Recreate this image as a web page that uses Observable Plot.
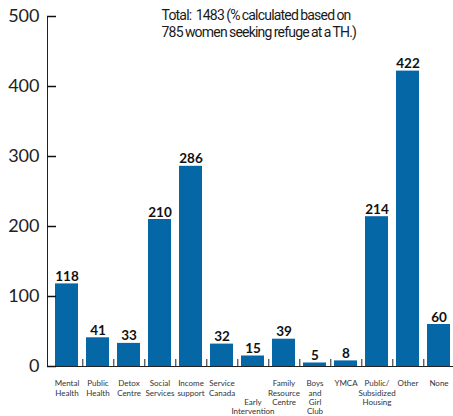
<!DOCTYPE html>
<html>
<head>
<meta charset="utf-8">
<script src="https://cdn.jsdelivr.net/npm/d3@7"></script>
<script src="https://cdn.jsdelivr.net/npm/@observablehq/plot@0.6"></script>
<style>
  html, body { margin: 0; padding: 0; background: #fff; }
  #chart { width: 453px; height: 416px; overflow: hidden; }
</style>
</head>
<body>
<div id="chart"></div>
<script>
const categories = ["Mental Health", "Public Health", "Detox Centre", "Social Services", "Income support", "Service Canada", "Early Intervention", "Family Resource Centre", "Boys and Girl Club", "YMCA", "Public/Subsidized Housing", "Other", "None"];
const counts = [118, 41, 33, 210, 286, 32, 15, 39, 5, 8, 214, 422, 60];
const tickLabels = ["Mental\nHealth", "Public\nHealth", "Detox\nCentre", "Social\nServices", "Income\nsupport", "Service\nCanada", "\u00a0\n\u00a0\nEarly\nIntervention", "Family\nResource\nCentre", "Boys\nand\nGirl\nClub", "YMCA", "Public/\nSubsidized\nHousing", "Other", "None"];
const yTicks = [0, 100, 200, 300, 400, 500];
const titleLines = ["Total:  1483 (% calculated based on", "785 women seeking refuge at a TH.)"];

const data = categories.map((c, i) => ({category: c, count: counts[i], label: tickLabels[i]}));

const W = 453, H = 416, mL = 47, mR = 0, mT = 16, mB = 50;
const xRange = [47, 457.2];
const padInner = 0.272, padOuter = 0.127;
const step = (xRange[1] - xRange[0]) / (categories.length - padInner + 2 * padOuter);
const tickLen = 9;

const chart = Plot.plot({
  width: W,
  height: H,
  marginLeft: mL,
  marginRight: mR,
  marginTop: mT,
  marginBottom: mB,
  style: {fontFamily: "Lato, sans-serif", background: "#fff", color: "#222"},
  x: {domain: categories, range: xRange, paddingInner: padInner, paddingOuter: padOuter, axis: null},
  y: {domain: [0, 500], axis: null},
  marks: [
    Plot.barY(data, {x: "category", y: "count", fill: "#0567a6"}),
    Plot.frame({anchor: "left", stroke: "#222"}),
    Plot.ruleY([0], {stroke: "#222"}),
    Plot.ruleY(yTicks, {y: d => d, insetLeft: 0, insetRight: (W - mL - mR) - tickLen, stroke: "#111", strokeWidth: 1.5}),
    Plot.axisY(yTicks, {anchor: "left", label: null, tickSize: 0, tickPadding: 8, fontSize: 18, fill: "#222"}),
    Plot.ruleX(categories.slice(0, -1), {x: d => d, y1: 0, y2: 10, dx: step / 2, stroke: "#222"}),
    Plot.text(data, {x: "category", y: "count", text: d => String(d.count), lineAnchor: "bottom", dy: -3, fontWeight: "bold", fontSize: 13.5, fill: "#111"}),
    Plot.text(data, {x: "category", text: "label", frameAnchor: "bottom", lineAnchor: "top", dy: 13, fontSize: 8, lineHeight: 1.17, fill: "#333"}),
    Plot.text([titleLines.join("\n")], {frameAnchor: "top-left", text: d => d, textAnchor: "start", lineAnchor: "top", dx: 114, dy: -8, fontSize: 14, lineHeight: 1.18, fontFamily: "Roboto, sans-serif", fill: "#1a1a1a"})
  ]
});
d3.select(chart).selectAll("text")
  .filter(function() { return this.textContent.startsWith("Total:"); })
  .style("letter-spacing", "-0.8px")
  .style("word-spacing", "-0.5px");
document.getElementById("chart").appendChild(chart);
</script>
</body>
</html>
